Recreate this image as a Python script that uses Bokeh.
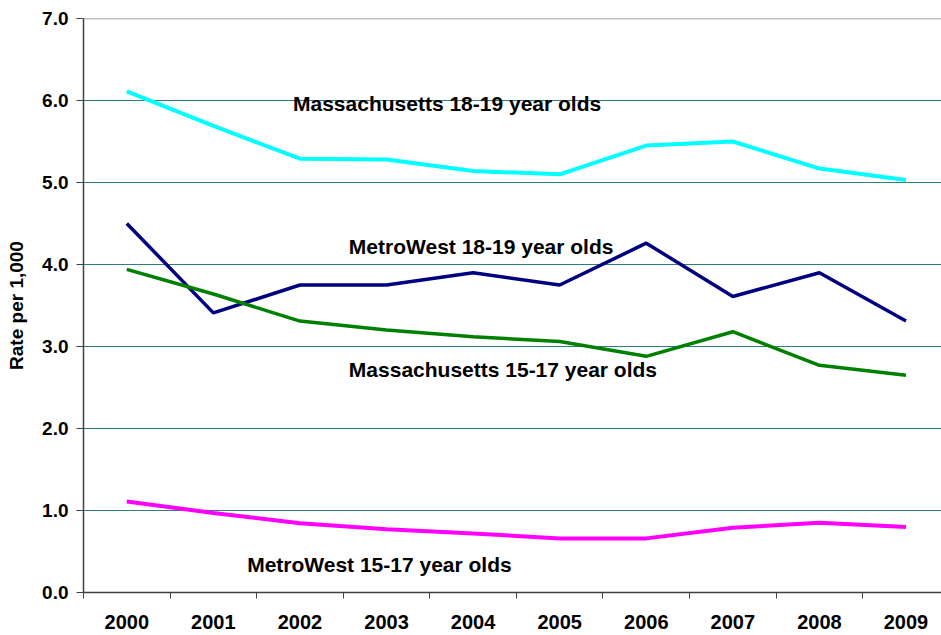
from bokeh.plotting import figure
from bokeh.models import FixedTicker, Span, Label, PrintfTickFormatter, Range1d
from bokeh.embed import file_html
from bokeh.resources import INLINE

years = ["2000", "2001", "2002", "2003", "2004", "2005", "2006", "2007", "2008", "2009"]
ma_18_19 = [6.11, 5.69, 5.29, 5.28, 5.14, 5.10, 5.45, 5.50, 5.17, 5.03]
mw_18_19 = [4.50, 3.41, 3.75, 3.75, 3.90, 3.75, 4.26, 3.61, 3.90, 3.31]
ma_15_17 = [3.94, 3.64, 3.31, 3.20, 3.12, 3.06, 2.88, 3.18, 2.77, 2.65]
mw_15_17 = [1.11, 0.97, 0.845, 0.77, 0.72, 0.66, 0.66, 0.79, 0.85, 0.80]
y_ticks = [0, 1, 2, 3, 4, 5, 6, 7]

FONT = "Liberation Sans"
xs = list(range(len(years)))

p = figure(width=941, height=635, output_backend="svg", toolbar_location=None,
           x_range=Range1d(-0.5, 9.41), y_range=Range1d(0, 7),
           min_border_left=83, min_border_right=0, min_border_top=18, min_border_bottom=43)
p.outline_line_color = None
p.background_fill_color = "white"

# grid
p.xgrid.grid_line_color = None
p.ygrid.ticker = FixedTicker(ticks=[1, 2, 3, 4, 5, 6])
p.ygrid.grid_line_color = "#2F7F7F"
p.ygrid.grid_line_width = 1
p.add_layout(Span(location=7, dimension="width", line_color="#808080", line_width=1.5))

# x axis
p.xaxis.ticker = FixedTicker(ticks=xs, minor_ticks=[i - 0.5 for i in range(len(years) + 1)])
p.xaxis.major_label_overrides = {i: y for i, y in enumerate(years)}
p.xaxis.major_tick_out = 0
p.xaxis.major_tick_in = 0
p.xaxis.minor_tick_out = 6
p.xaxis.minor_tick_in = 0
p.xaxis.minor_tick_line_color = "#404040"
p.xaxis.axis_line_color = "#404040"
p.xaxis.axis_line_width = 1.5
p.xaxis.major_label_text_font = FONT
p.xaxis.major_label_text_font_style = "bold"
p.xaxis.major_label_text_font_size = "20px"
p.xaxis.major_label_text_color = "black"
p.xaxis.major_label_standoff = 16

# y axis
p.yaxis.ticker = FixedTicker(ticks=y_ticks)
p.yaxis.formatter = PrintfTickFormatter(format="%.1f")
p.yaxis.major_tick_out = 7
p.yaxis.major_tick_in = 0
p.yaxis.minor_tick_line_color = None
p.yaxis.major_tick_line_color = "#404040"
p.yaxis.axis_line_color = "#404040"
p.yaxis.axis_line_width = 1.5
p.yaxis.major_label_text_font = FONT
p.yaxis.major_label_text_font_style = "bold"
p.yaxis.major_label_text_font_size = "19px"
p.yaxis.major_label_text_color = "black"
p.yaxis.major_label_standoff = 8
p.yaxis.axis_label = "Rate per 1,000"
p.yaxis.axis_label_text_font = FONT
p.yaxis.axis_label_text_font_style = "bold"
p.yaxis.axis_label_text_font_size = "19px"
p.yaxis.axis_label_text_color = "black"
p.yaxis.axis_label_standoff = 12

# lines
p.line(xs, ma_18_19, line_color="#00FFFF", line_width=4)
p.line(xs, mw_18_19, line_color="#000080", line_width=3.5)
p.line(xs, ma_15_17, line_color="#008000", line_width=3.5)
p.line(xs, mw_15_17, line_color="#FF00FF", line_width=4)

def add_label(x, y, txt):
    p.add_layout(Label(x=x, y=y, text=txt, text_font=FONT, text_font_style="bold",
                       text_font_size="21px", text_color="black",
                       text_align="left", text_baseline="middle"))

add_label(1.92, 5.96, "Massachusetts 18-19 year olds")
add_label(2.565, 4.22, "MetroWest 18-19 year olds")
add_label(2.565, 2.72, "Massachusetts 15-17 year olds")
add_label(1.39, 0.34, "MetroWest 15-17 year olds")

open("out.html", "w").write(file_html(p, INLINE))
